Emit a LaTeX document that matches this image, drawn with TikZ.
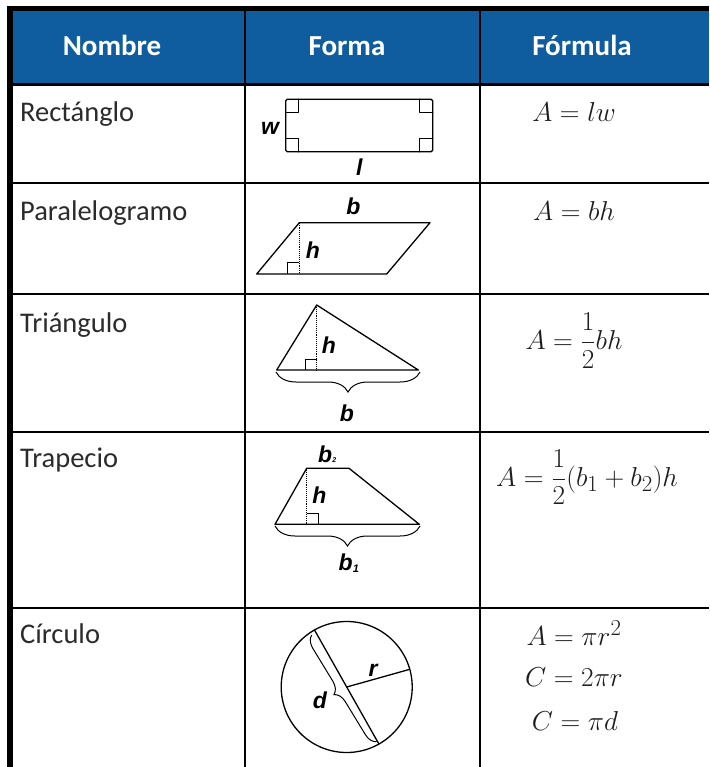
\documentclass[tikz,border=0pt]{standalone}
\usepackage[no-math]{fontspec}
\usepackage{graphicx}
\setmainfont{Carlito}
\newfontfamily\labfont{Liberation Sans}
\usetikzlibrary{decorations.pathreplacing}
\definecolor{hdrblue}{HTML}{0F5D9E}
\definecolor{txtgray}{HTML}{2B2B2B}
\definecolor{mathgray}{HTML}{1E1E1E}
\newcommand{\fmath}[1]{\scalebox{1.1}{\fontsize{24.88}{28}\selectfont #1}}
\begin{document}
\begin{tikzpicture}[x=1pt,y=-1pt,
  hdr/.style={text=white, font=\fontsize{29}{32}\selectfont\bfseries, anchor=base, inner sep=0},
  rowname/.style={text=txtgray, font=\fontsize{28.5}{30}\selectfont, anchor=base west, inner sep=0},
  frm/.style={text=mathgray, anchor=base, inner sep=0},
  lab/.style={font=\labfont\bfseries\itshape\fontsize{23}{25}\selectfont, inner sep=0},
  shp/.style={line width=1.3pt, line join=round, line cap=round},
  hgt/.style={line width=0.9pt, densely dotted},
  rgt/.style={line width=1pt},
  brc/.style={decorate, decoration={brace, amplitude=#1}, line width=1pt},
  gridline/.style={line width=1.8pt},
]
\useasboundingbox (0,0) rectangle (709,767);
\fill[white] (0,0) rectangle (709,767);
% header
\fill[hdrblue] (12,11) rectangle (709,83.5);
\node[hdr] (hNombre) at (112,56) {Nombre};
\node[hdr] (hForma) at (347,56) {Forma};
\node[hdr] (hFormula) at (582,56) {Fórmula};
% grid
\draw[line width=5pt] (7,8.5) -- (709,8.5);
\draw[line width=2.6pt] (12,84.7) -- (709,84.7);
\foreach \yy in {182.7,294,431.7,607.7} \draw[gridline] (12,\yy) -- (709,\yy);
\foreach \xx in {245,480} \draw[gridline] (\xx,11) -- (\xx,767);
\draw[line width=5.4pt] (10,6) -- (10,767);
% names
\node[rowname] (nRect) at (20,122) {Rectánglo};
\node[rowname] (nPar) at (20,220) {Paralelogramo};
\node[rowname] (nTri) at (20,332) {Triángulo};
\node[rowname] (nTrap) at (20,467) {Trapecio};
\node[rowname] (nCirc) at (20,643) {Círculo};
% formulas
\node[frm] (fRect) at (574,121.7) {\fmath{$A = lw$}};
\node[frm] (fPar) at (574,220) {\fmath{$A = bh$}};
\node[frm] (fTri) at (574,349.3) {\fmath{$\displaystyle A = \frac{1}{2}bh$}};
\node[frm, anchor=base west] (fTrap) at (496,486) {\fmath{$\displaystyle A = \frac{1}{2}(b_1 + b_2)h$}};
\node[frm] (fCa) at (574,645) {\fmath{$A = \pi r^2$}};
\node[frm] (fCb) at (574,686.7) {\fmath{$C = 2\pi r$}};
\node[frm] (fCc) at (575,730) {\fmath{$C = \pi d$}};
% rectangle
\draw[shp, rounded corners=1.5pt] (285.7,99.3) rectangle (432.7,151.7);
\draw[shp] (285.7,112.3) -- (298.7,112.3) -- (298.7,99.3);
\draw[shp] (419.7,99.3) -- (419.7,112.3) -- (432.7,112.3);
\draw[shp] (285.7,138.7) -- (298.7,138.7) -- (298.7,151.7);
\draw[shp] (419.7,151.7) -- (419.7,138.7) -- (432.7,138.7);
\node[lab] (lw) at (270,128.3) {w};
\node[lab] (ll) at (359.3,166.7) {l};
% parallelogram
\coordinate (pA) at (256.7,274);
\coordinate (pB) at (299.3,222.7);
\coordinate (pC) at (430,222.7);
\coordinate (pD) at (386.7,274);
\coordinate (pF) at (299.3,274);
\draw[shp] (pA) -- (pB) -- (pC) -- (pD) -- cycle;
\draw[hgt] (pB) -- (pF);
\draw[rgt] (287.3,274) -- (287.3,262.3) -- (299.3,262.3);
\node[lab] (lpb) at (353.5,206) {b};
\node[lab] (lph) at (313,250.5) {h};
% triangle
\coordinate (tA) at (316.7,305);
\coordinate (tB) at (276.7,370);
\coordinate (tC) at (418.3,370);
\coordinate (tF) at (316.7,370);
\draw[shp] (tA) -- (tB) -- (tC) -- cycle;
\draw[hgt] (tA) -- (tF);
\draw[rgt] (305.3,370) -- (305.3,359.3) -- (316.7,359.3);
\coordinate (tbr) at (420,372);
\coordinate (tbl) at (276,372);
\draw[brc=20pt] (tbr) -- (tbl);
\node[lab] (lth) at (329,345) {h};
\node[lab] (ltb) at (347,413) {b};
% trapezoid
\coordinate (zA) at (306.7,468.3);
\coordinate (zB) at (349,468.3);
\coordinate (zC) at (419.3,524.3);
\coordinate (zD) at (275,524.3);
\coordinate (zF) at (306.7,524.3);
\draw[shp] (zA) -- (zB) -- (zC) -- (zD) -- cycle;
\draw[hgt] (zA) -- (zF);
\draw[rgt] (306.7,513.3) -- (318.3,513.3) -- (318.3,524.3);
\coordinate (zbr) at (420,526);
\coordinate (zbl) at (275,526);
\draw[brc=20pt] (zbr) -- (zbl);
\node[lab] (lzh) at (319.5,495) {h};
\node[lab, anchor=base west] (lzb2) at (318,462) {b\fontsize{7}{7}\selectfont 2};
\node[lab, anchor=base west] (lzb1) at (338.5,570) {b\raisebox{-2pt}{\fontsize{11}{11}\selectfont 1}};
% circle
\coordinate (cO) at (346.7,687);
\draw[shp] (cO) circle[radius=65.5];
\coordinate (cT) at (314.5,630);
\coordinate (cB) at (378.9,744);
\coordinate (cR) at (409.8,669.3);
\draw[shp] (cT) -- (cB);
\draw[shp] (cO) -- (cR);
\coordinate (cbb) at (376.7,741.7);
\coordinate (cbt) at (311.7,635);
\draw[brc=12pt] (cbb) -- (cbt);
\node[lab] (lr) at (373,670) {r};
\node[lab] (ld) at (320,700) {d};
\end{tikzpicture}
\end{document}
